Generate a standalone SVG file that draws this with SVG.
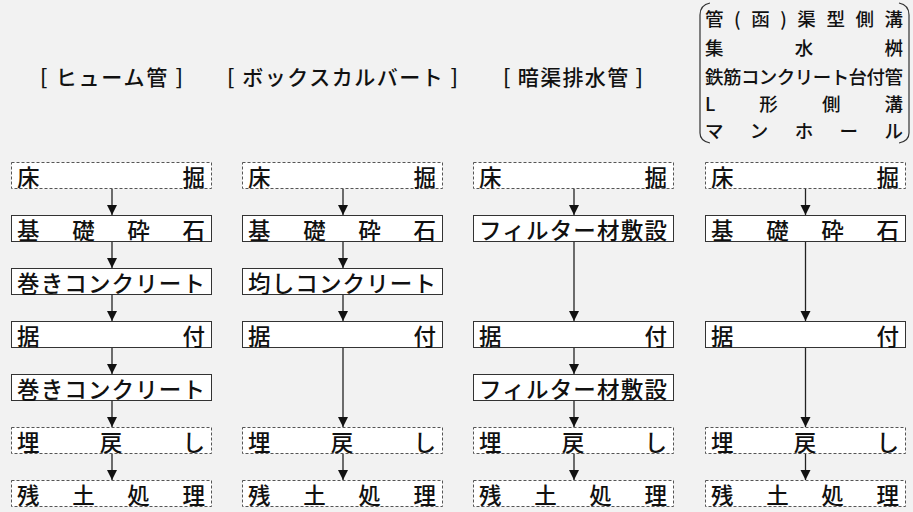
<svg xmlns="http://www.w3.org/2000/svg" width="913" height="512" viewBox="0 0 913 512">
<style>
text{font-family:"Noto Sans CJK JP","Noto Sans CJK SC",sans-serif;fill:#111;font-weight:500;}
.t{font-size:22.5px;dominant-baseline:central;}
.h{font-size:21px;dominant-baseline:central;}
.r{font-size:18.5px;dominant-baseline:central;}
.solid{fill:#fff;stroke:#333;stroke-width:1;}
.dash{fill:#fff;stroke:#555;stroke-width:1;stroke-dasharray:3 2;}
.c{stroke:#222;stroke-width:1.3;fill:none;marker-end:url(#ah);}
.br{fill:none;stroke:#333;stroke-width:1.2;}
</style>
<defs>
<marker id="ah" viewBox="0 0 10 10" refX="10" refY="5" markerWidth="10" markerHeight="11" markerUnits="userSpaceOnUse" orient="auto">
<path d="M0,0 L10,5 L0,10 Z" fill="#111"/>
</marker>
</defs>
<rect x="0" y="0" width="913" height="512" fill="#f2f2f2"/>

<g id="headers">
<text class="h" x="40" y="76" textLength="143" lengthAdjust="spacing">[ ヒューム管 ]</text>
<text class="h" x="227" y="76" textLength="231" lengthAdjust="spacing">[ ボックスカルバート ]</text>
<text class="h" x="503" y="76" textLength="140" lengthAdjust="spacing">[ 暗渠排水管 ]</text>
</g>

<g id="header4">
<path class="br" d="M710,3 Q700,5 700,15 L700,133 Q700,141 710,143"/>
<path class="br" d="M899,3 Q909,5 909,15 L909,133 Q909,141 899,143"/>
<text class="r" x="705" y="18" textLength="198" lengthAdjust="spacing">管(函)渠型側溝</text>
<text class="r" x="705" y="47" textLength="198" lengthAdjust="spacing">集水桝</text>
<text class="r" x="705" y="75.5" textLength="198" lengthAdjust="spacing">鉄筋コンクリート台付管</text>
<text class="r" x="705" y="103" textLength="198" lengthAdjust="spacing">L形側溝</text>
<text class="r" x="705" y="129.5" textLength="198" lengthAdjust="spacing">マンホール</text>
</g>

<!-- column 1 -->
<g id="c1n1"><rect class="dash" x="11.5" y="162.5" width="200" height="26"/><text class="t" x="17" y="175.5" textLength="188" lengthAdjust="spacing">床掘</text></g>
<g id="c1n2"><rect class="solid" x="11.5" y="215.5" width="200" height="26"/><text class="t" x="17" y="228.5" textLength="188" lengthAdjust="spacing">基礎砕石</text></g>
<g id="c1n3"><rect class="solid" x="11.5" y="268.5" width="200" height="26"/><text class="t" x="17" y="281.5" textLength="188" lengthAdjust="spacing">巻きコンクリート</text></g>
<g id="c1n4"><rect class="solid" x="11.5" y="321.5" width="200" height="26"/><text class="t" x="17" y="334.5" textLength="188" lengthAdjust="spacing">据付</text></g>
<g id="c1n5"><rect class="solid" x="11.5" y="374.5" width="200" height="26"/><text class="t" x="17" y="387.5" textLength="188" lengthAdjust="spacing">巻きコンクリート</text></g>
<g id="c1n6"><rect class="dash" x="11.5" y="427.5" width="200" height="26"/><text class="t" x="17" y="440.5" textLength="188" lengthAdjust="spacing">埋戻し</text></g>
<g id="c1n7"><rect class="dash" x="11.5" y="480.5" width="200" height="26"/><text class="t" x="17" y="493.5" textLength="188" lengthAdjust="spacing">残土処理</text></g>

<!-- column 2 -->
<g id="c2n1"><rect class="dash" x="242.5" y="162.5" width="200" height="26"/><text class="t" x="248" y="175.5" textLength="188" lengthAdjust="spacing">床掘</text></g>
<g id="c2n2"><rect class="solid" x="242.5" y="215.5" width="200" height="26"/><text class="t" x="248" y="228.5" textLength="188" lengthAdjust="spacing">基礎砕石</text></g>
<g id="c2n3"><rect class="solid" x="242.5" y="268.5" width="200" height="26"/><text class="t" x="248" y="281.5" textLength="188" lengthAdjust="spacing">均しコンクリート</text></g>
<g id="c2n4"><rect class="solid" x="242.5" y="321.5" width="200" height="26"/><text class="t" x="248" y="334.5" textLength="188" lengthAdjust="spacing">据付</text></g>
<g id="c2n6"><rect class="dash" x="242.5" y="427.5" width="200" height="26"/><text class="t" x="248" y="440.5" textLength="188" lengthAdjust="spacing">埋戻し</text></g>
<g id="c2n7"><rect class="dash" x="242.5" y="480.5" width="200" height="26"/><text class="t" x="248" y="493.5" textLength="188" lengthAdjust="spacing">残土処理</text></g>

<!-- column 3 -->
<g id="c3n1"><rect class="dash" x="473.5" y="162.5" width="200" height="26"/><text class="t" x="479" y="175.5" textLength="188" lengthAdjust="spacing">床掘</text></g>
<g id="c3n2"><rect class="solid" x="473.5" y="215.5" width="200" height="26"/><text class="t" x="479" y="228.5" textLength="188" lengthAdjust="spacing">フィルター材敷設</text></g>
<g id="c3n4"><rect class="solid" x="473.5" y="321.5" width="200" height="26"/><text class="t" x="479" y="334.5" textLength="188" lengthAdjust="spacing">据付</text></g>
<g id="c3n5"><rect class="solid" x="473.5" y="374.5" width="200" height="26"/><text class="t" x="479" y="387.5" textLength="188" lengthAdjust="spacing">フィルター材敷設</text></g>
<g id="c3n6"><rect class="dash" x="473.5" y="427.5" width="200" height="26"/><text class="t" x="479" y="440.5" textLength="188" lengthAdjust="spacing">埋戻し</text></g>
<g id="c3n7"><rect class="dash" x="473.5" y="480.5" width="200" height="26"/><text class="t" x="479" y="493.5" textLength="188" lengthAdjust="spacing">残土処理</text></g>

<!-- column 4 -->
<g id="c4n1"><rect class="dash" x="705.5" y="162.5" width="200" height="26"/><text class="t" x="711" y="175.5" textLength="188" lengthAdjust="spacing">床掘</text></g>
<g id="c4n2"><rect class="solid" x="705.5" y="215.5" width="200" height="26"/><text class="t" x="711" y="228.5" textLength="188" lengthAdjust="spacing">基礎砕石</text></g>
<g id="c4n4"><rect class="solid" x="705.5" y="321.5" width="200" height="26"/><text class="t" x="711" y="334.5" textLength="188" lengthAdjust="spacing">据付</text></g>
<g id="c4n6"><rect class="dash" x="705.5" y="427.5" width="200" height="26"/><text class="t" x="711" y="440.5" textLength="188" lengthAdjust="spacing">埋戻し</text></g>
<g id="c4n7"><rect class="dash" x="705.5" y="480.5" width="200" height="26"/><text class="t" x="711" y="493.5" textLength="188" lengthAdjust="spacing">残土処理</text></g>

<g id="connectors">
<line class="c" x1="112" y1="189" x2="112" y2="215"/>
<line class="c" x1="112" y1="242" x2="112" y2="268"/>
<line class="c" x1="112" y1="295" x2="112" y2="321"/>
<line class="c" x1="112" y1="348" x2="112" y2="374"/>
<line class="c" x1="112" y1="401" x2="112" y2="427"/>
<line class="c" x1="112" y1="454" x2="112" y2="480"/>

<line class="c" x1="343" y1="189" x2="343" y2="215"/>
<line class="c" x1="343" y1="242" x2="343" y2="268"/>
<line class="c" x1="343" y1="295" x2="343" y2="321"/>
<line class="c" x1="343" y1="348" x2="343" y2="427"/>
<line class="c" x1="343" y1="454" x2="343" y2="480"/>

<line class="c" x1="574" y1="189" x2="574" y2="215"/>
<line class="c" x1="574" y1="242" x2="574" y2="321"/>
<line class="c" x1="574" y1="348" x2="574" y2="374"/>
<line class="c" x1="574" y1="401" x2="574" y2="427"/>
<line class="c" x1="574" y1="454" x2="574" y2="480"/>

<line class="c" x1="805.5" y1="189" x2="805.5" y2="215"/>
<line class="c" x1="805.5" y1="242" x2="805.5" y2="321"/>
<line class="c" x1="805.5" y1="348" x2="805.5" y2="427"/>
<line class="c" x1="805.5" y1="454" x2="805.5" y2="480"/>
</g>
</svg>
